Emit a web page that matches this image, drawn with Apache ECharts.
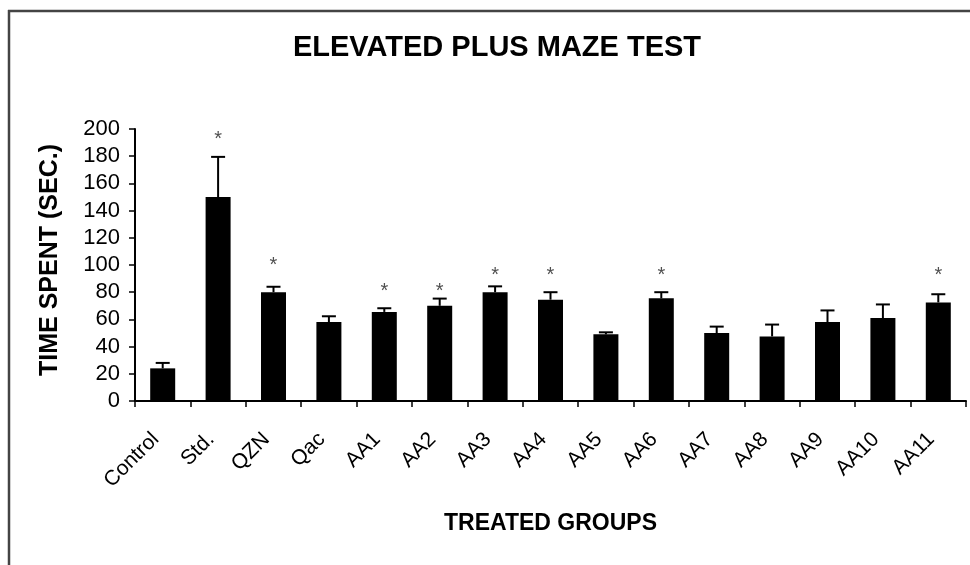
<!DOCTYPE html>
<html>
<head>
<meta charset="utf-8">
<script src="https://cdn.jsdelivr.net/npm/echarts@6/dist/echarts.min.js"></script>
<style>
html,body{margin:0;padding:0;background:#fff;}
#chart{width:970px;height:565px;}
</style>
</head>
<body>
<div id="chart"></div>
<script>
var categories = ['Control','Std.','QZN','Qac','AA1','AA2','AA3','AA4','AA5','AA6','AA7','AA8','AA9','AA10','AA11'];
var meanValues = [24, 150, 80, 58, 65.5, 70, 80, 74.5, 49, 75.5, 50, 47.5, 58, 61, 72.5];
var errorValues = [4, 29.5, 4, 4.3, 2.7, 5.3, 4.3, 5.5, 1.5, 4.5, 4.7, 8.7, 8.6, 10, 6];
var starLevels = [null, 196, 103, null, 84.5, 84.5, 96, 96, null, 96, null, null, null, null, 96];
var yTicks = {min: 0, max: 200, interval: 20};

var FONT = 'Liberation Sans';

var errorData = meanValues.map(function (v, i) { return [i, v, v + errorValues[i]]; });
var starData = [];
starLevels.forEach(function (s, i) { if (s !== null) starData.push([i, s]); });

var chart = echarts.init(document.getElementById('chart'), null, {renderer: 'canvas'});
chart.setOption({
  backgroundColor: '#fff',
  animation: false,
  textStyle: {fontFamily: FONT},
  graphic: [
    {type: 'line', shape: {x1: 8, y1: 11, x2: 1000, y2: 11}, style: {stroke: '#444', lineWidth: 2.5}},
    {type: 'line', shape: {x1: 9, y1: 10, x2: 9, y2: 600}, style: {stroke: '#444', lineWidth: 2.5}},
    {type: 'text', x: 497, y: 48, style: {text: 'ELEVATED PLUS MAZE TEST', font: 'bold 29px "Liberation Sans"', fill: '#000', textAlign: 'center', textVerticalAlign: 'middle'}}
  ],
  grid: {left: 135, right: 4, top: 129, bottom: 164, containLabel: false},
  xAxis: {
    type: 'category',
    data: categories,
    axisLine: {lineStyle: {color: '#000', width: 2}},
    axisTick: {show: true, length: 6, lineStyle: {color: '#000', width: 1.5}},
    axisLabel: {interval: 0, rotate: 45, fontSize: 21, color: '#000', margin: 28, padding: [0, 10, 42, 0], fontFamily: FONT},
    name: 'TREATED GROUPS',
    nameLocation: 'middle',
    nameGap: 111,
    nameTextStyle: {fontSize: 23, fontWeight: 'bold', color: '#000', fontFamily: FONT}
  },
  yAxis: {
    type: 'value',
    min: yTicks.min, max: yTicks.max, interval: yTicks.interval,
    axisLine: {show: true, lineStyle: {color: '#000', width: 2}},
    axisTick: {show: true, length: 6, lineStyle: {color: '#000', width: 1.5}},
    splitLine: {show: false},
    axisLabel: {fontSize: 22, color: '#000', margin: 15, fontFamily: FONT},
    name: 'TIME SPENT (SEC.)',
    nameLocation: 'middle',
    nameRotate: 90,
    nameGap: 72,
    nameTextStyle: {fontSize: 25, fontWeight: 'bold', color: '#000', fontFamily: FONT, padding: [0, 0, 0, 10]}
  },
  series: [
    {
      type: 'bar',
      data: meanValues,
      barWidth: 25,
      itemStyle: {color: '#000'},
      z: 2
    },
    {
      type: 'custom',
      data: errorData,
      z: 3,
      renderItem: function (params, api) {
        var base = api.coord([api.value(0), api.value(1)]);
        var top = api.coord([api.value(0), api.value(2)]);
        var half = 7;
        return {
          type: 'group',
          children: [
            {type: 'line', shape: {x1: base[0], y1: base[1], x2: base[0], y2: top[1]}, style: {stroke: '#000', lineWidth: 2}},
            {type: 'line', shape: {x1: base[0] - half, y1: top[1], x2: base[0] + half, y2: top[1]}, style: {stroke: '#000', lineWidth: 2}}
          ]
        };
      }
    },
    {
      type: 'scatter',
      data: starData,
      symbolSize: 0,
      z: 4,
      label: {show: true, position: 'inside', formatter: '*', fontSize: 20, color: '#222', offset: [0, 5], fontFamily: FONT}
    }
  ]
});
</script>
</body>
</html>
